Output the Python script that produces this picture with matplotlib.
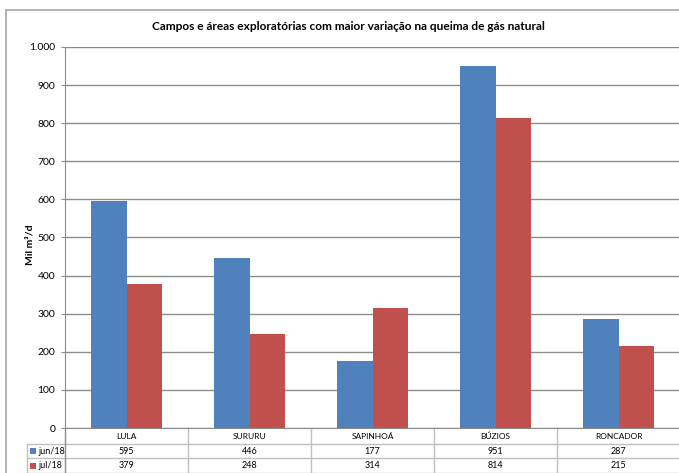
import matplotlib
matplotlib.use("Agg")
import matplotlib.pyplot as plt
import numpy as np
from matplotlib.ticker import FuncFormatter
from matplotlib.patches import Rectangle

campos = ["LULA", "SURURU", "SAPINHOÁ", "BÚZIOS", "RONCADOR"]
jun18 = [595, 446, 177, 951, 287]
jul18 = [379, 248, 314, 814, 215]
series_names = ["jun/18", "jul/18"]

azul = "#4F81BD"
vermelho = "#C0504D"
cinza = "#8C8C8C"

plt.rcParams["font.family"] = ["Lato", "DejaVu Sans"]

W, H = 679, 473
fig = plt.figure(figsize=(W / 100, H / 100), dpi=100)

# moldura externa do grafico (cortada a direita e embaixo)
fig.patches.append(Rectangle((6 / W, -0.1), 1.2, 1 - 10 / H + 0.1,
                             transform=fig.transFigure, fill=False,
                             edgecolor="#A6A6A6", linewidth=1.2))

x0, ytop, ybot, x1 = 65, 47, 428, 680
ax = fig.add_axes([x0 / W, 1 - ybot / H, (x1 - x0) / W, (ybot - ytop) / H])

x = np.arange(len(campos))
w = 0.285
ax.bar(x - w / 2, jun18, w, color=azul, zorder=3)
ax.bar(x + w / 2, jul18, w, color=vermelho, zorder=3)

ax.set_xlim(-0.5, len(campos) - 0.5)
ax.set_ylim(0, 1000)
ax.set_yticks(np.arange(0, 1001, 100))
ax.yaxis.set_major_formatter(FuncFormatter(lambda v, p: f"{int(v):,}".replace(",", ".")))
ax.set_xticks([])
ax.grid(axis="y", color=cinza, linewidth=1, zorder=0)
for s in ["top", "right"]:
    ax.spines[s].set_visible(False)
ax.spines["left"].set_color(cinza)
ax.spines["bottom"].set_color(cinza)
ax.tick_params(axis="y", length=3, color=cinza, labelsize=7.5, pad=4)

fig.text(30 / W, 1 - 245 / H, "Mil m³/d", rotation=90, ha="center", va="center",
         fontsize=7.5, fontweight="bold")

fig.text(348 / W, 1 - 26 / H, "Campos e áreas exploratórias com maior variação na queima de gás natural",
         ha="center", va="center", fontsize=8.6, fontweight="bold")

# tabela de dados abaixo do eixo
hpx = ybot - ytop
def ya(py):
    return (ybot - py) / hpx

tr = ax.transAxes
line_kw = dict(transform=tr, clip_on=False, color="#BFBFBF", linewidth=1)
leg_x = (27 - x0) / (x1 - x0)
# linhas horizontais
ax.plot([leg_x, 1], [ya(444), ya(444)], **line_kw)
ax.plot([leg_x, 1], [ya(458), ya(458)], **line_kw)
ax.plot([leg_x, 1], [ya(472.5), ya(472.5)], **line_kw)
# linhas verticais
ax.plot([0, 0], [ya(428), ya(473)], transform=tr, clip_on=False, color=cinza, linewidth=1)
ax.plot([leg_x, leg_x], [ya(444), ya(473)], **line_kw)
n = len(campos)
for i in range(1, n):
    xf = i / n
    ax.plot([xf, xf], [ya(428), ya(473)], **line_kw)

for i, nome in enumerate(campos):
    xc = (i + 0.5) / n
    ax.text(xc, ya(436), nome, transform=tr, ha="center", va="center", fontsize=6)
    ax.text(xc, ya(451), str(jun18[i]), transform=tr, ha="center", va="center", fontsize=6.5)
    ax.text(xc, ya(465.5), str(jul18[i]), transform=tr, ha="center", va="center", fontsize=6.5)

for nome, cor, yc in [(series_names[0], azul, 451), (series_names[1], vermelho, 465.5)]:
    ax.add_patch(Rectangle(((30 - x0) / (x1 - x0), ya(yc + 3)), 6 / (x1 - x0), 6 / hpx,
                           transform=tr, clip_on=False, facecolor=cor, edgecolor="none"))
    ax.text((38 - x0) / (x1 - x0), ya(yc), nome, transform=tr, ha="left", va="center", fontsize=6.5)

fig.savefig("out.png", dpi=100)
